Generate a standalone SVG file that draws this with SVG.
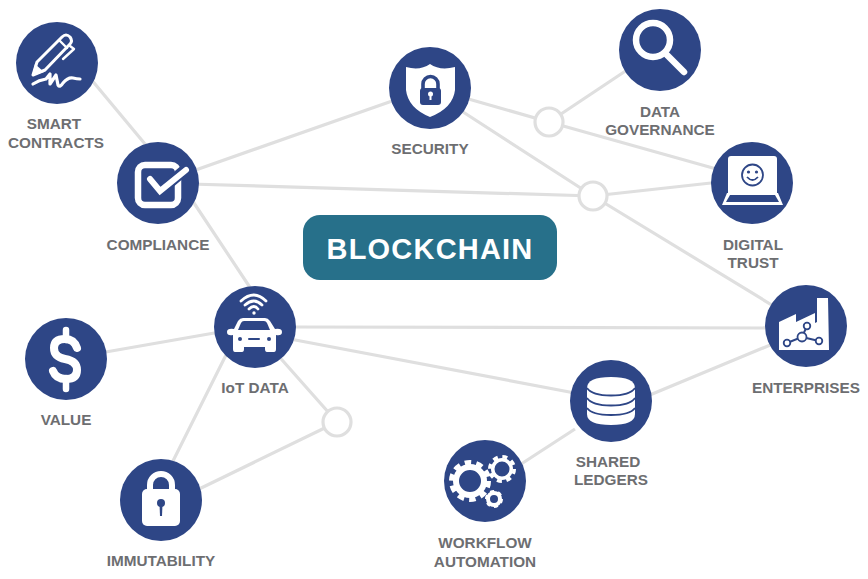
<svg xmlns="http://www.w3.org/2000/svg" width="868" height="579" viewBox="0 0 868 579">
<style>
.c{stroke:#dfdfdf;stroke-width:3.2;fill:none}
.j{stroke:#dfdfdf;stroke-width:3.2;fill:#fff}
.n{fill:#2e4686}
.w{fill:#fff}
.b{fill:#2e4686}
.ws{fill:none;stroke:#fff;stroke-linecap:round;stroke-linejoin:round}
.bs{fill:none;stroke:#2e4686}
.wr{fill:none;stroke:#fff}
.nd{fill:#fff;stroke:#2e4686;stroke-width:1.8}
text{font-family:"Liberation Sans",Arial,sans-serif;font-weight:700;font-size:15.3px;fill:#6d6e71;text-anchor:middle}
</style>
<rect width="868" height="579" fill="#fff"/>
<g id="connectors">
<path class="c" d="M90 78L150 150M190 172L395 100M190 184L593 196M190 197L255 295M465 98L549 122M549 122L630 68M549 122L720 170M460 110L593 196M593 196L720 182M593 196L780 310M290 327L775 328M290 339L580 394M645 397L775 343M575 429L515 468M100 353L220 332M226 355L172 463M275 352L337 422M337 422L195 491"/>
<circle class="j" cx="549" cy="122" r="14"/>
<circle class="j" cx="593" cy="196" r="14"/>
<circle class="j" cx="337" cy="422" r="14"/>
</g>
<g id="smart-contracts">
<circle class="n" cx="57" cy="63" r="41"/>
<path class="ws" stroke-width="3" d="M33 75L37 62L62 37Q66 33 70 37Q73 41 70 44L45 70Z"/>
<path class="w" d="M32 76L35 64L44 72Z"/>
<path class="ws" stroke-width="2.4" d="M59 40L67 48M70 46L74 49L63 59"/>
<path class="ws" stroke-width="3.2" d="M33 84Q39 80 46 79L50 74L50 84L56 75L58 85Q60 88 63 83Q68 77 73 78Q77 79 80 79"/>
<text x="54" y="129">SMART</text><text x="56" y="148">CONTRACTS</text>
</g>
<g id="compliance">
<circle class="n" cx="158" cy="183" r="41"/>
<rect x="138" y="165" width="40" height="40" rx="7" class="wr" stroke-width="6.500"/>
<path d="M150 179L160 191L187 168" fill="none" stroke="#2e4686" stroke-width="11"/>
<path class="ws" stroke-width="6" d="M150 179L160 191L186 170" style="stroke-linecap:round;stroke-linejoin:miter"/>
<text x="158" y="250">COMPLIANCE</text>
</g>
<g id="security">
<circle class="n" cx="430" cy="88" r="41"/>
<path class="w" d="M406 67Q420 71 430 64Q440 71 455 67V90Q453 108 430 117Q408 108 406 90Z"/>
<path d="M423 89V84A7.500 7.500 0 0 1 438 84V89" fill="none" stroke="#2e4686" stroke-width="3.600"/>
<rect class="b" x="420" y="88" width="21" height="17" rx="3"/>
<circle class="w" cx="430.500" cy="94" r="2.500"/><rect class="w" x="429.500" y="94" width="2" height="6"/>
<text x="430" y="154">SECURITY</text>
</g>
<g id="data-governance">
<circle class="n" cx="660" cy="50" r="41"/>
<circle cx="653" cy="40" r="17" class="wr" stroke-width="6.500"/>
<path class="ws" stroke-width="6.500" d="M667 55L684 72"/>
<text x="660" y="117">DATA</text><text x="660" y="135">GOVERNANCE</text>
</g>
<g id="digital-trust">
<circle class="n" cx="752" cy="183" r="41"/>
<path class="w" d="M731 156H774Q777 156 777 159V193H728V159Q728 156 731 156Z"/>
<path class="w" d="M727 193H778L783 205H722Z"/>
<path class="b" d="M730 195H775L779 202H726Z"/>
<circle cx="752.500" cy="175" r="10.500" fill="none" stroke="#2e4686" stroke-width="1.800"/>
<circle class="b" cx="748.500" cy="172" r="1.600"/><circle class="b" cx="756.500" cy="172" r="1.600"/>
<path class="bs" stroke-width="1.800" d="M747 177Q752.500 183 758 177"/>
<text x="753" y="250">DIGITAL</text><text x="753" y="268">TRUST</text>
</g>
<g id="enterprises">
<circle class="n" cx="806" cy="326" r="41"/>
<path class="w" d="M779 322L796 314V322L815 313V323L817 322V298H828L829 350H779Z"/>
<path class="bs" stroke-width="2" d="M787 343L802 337L807 326M802 337L819 341"/>
<circle class="nd" cx="802" cy="337" r="4.500"/>
<circle class="nd" cx="807" cy="326" r="3.300"/>
<circle class="nd" cx="787" cy="343" r="3.300"/>
<circle class="nd" cx="819" cy="341" r="3.300"/>
<text x="806" y="393">ENTERPRISES</text>
</g>
<g id="iot-data">
<circle class="n" cx="255" cy="327" r="41"/>
<path class="ws" stroke-width="2.800" d="M241 301Q254 289 266 301M245 305Q254 297 262 305M249 309Q254 304 258 309"/>
<circle class="w" cx="254" cy="313" r="1.700"/>
<path class="w" d="M243 318H265Q268 318 270 321L275 329Q282 328 282 332Q282 336 276 335V349Q276 352 274 352H267Q265 352 265 349V347H244V349Q244 352 242 352H235Q233 352 233 349V335Q227 336 227 332Q227 328 234 329L238 321Q240 318 243 318Z"/>
<path class="b" d="M244 321H264Q266 321 267 323L270 330H238L241 323Q242 321 244 321Z"/>
<circle class="b" cx="240" cy="339" r="2"/><circle class="b" cx="269" cy="339" r="2"/>
<rect class="b" x="248" y="338" width="12" height="2" rx="1"/>
<text x="255" y="393">IoT DATA</text>
</g>
<g id="value">
<circle class="n" cx="66" cy="359" r="41"/>
<path class="ws" stroke-width="6.500" d="M66 330V340M66 378V389"/>
<path class="ws" stroke-width="8" d="M77 348Q74 339 65 339Q54 339 54 348Q54 357 65 359Q77 361 77 370Q77 379 66 379Q56 379 53 371"/>
<text x="66" y="425">VALUE</text>
</g>
<g id="immutability">
<circle class="n" cx="161" cy="500" r="41"/>
<path d="M150 492V485A11 11 0 0 1 172 485V492" class="wr" stroke-width="6"/>
<rect class="w" x="142" y="489" width="38" height="37" rx="5"/>
<circle class="b" cx="161" cy="503" r="4"/><path class="b" d="M159.500 504H162.500L162 516H160Z"/>
<text x="161" y="566">IMMUTABILITY</text>
</g>
<g id="shared-ledgers">
<circle class="n" cx="611" cy="401" r="41"/>
<path class="w" d="M587 388Q587 377 611 377Q635 377 635 388V414Q635 425 611 425Q587 425 587 414Z"/>
<path class="bs" stroke-width="1.800" d="M587 388Q592 395.500 611 395.500Q630 395.500 635 388M587 398Q592 405.500 611 405.500Q630 405.500 635 398M587 408Q592 415 611 415Q630 415 635 408"/>
<text x="608" y="467">SHARED</text><text x="611" y="485">LEDGERS</text>
</g>
<g id="workflow-automation">
<circle class="n" cx="485" cy="481" r="41"/>
<circle cx="470" cy="481" r="14" class="wr" stroke-width="6"/>
<circle cx="470" cy="481" r="18.500" class="wr" stroke-width="5" stroke-dasharray="6.500 5.120"/>
<circle cx="502" cy="469" r="9.250" class="wr" stroke-width="3.500"/>
<circle cx="502" cy="469" r="12.250" class="wr" stroke-width="3.500" stroke-dasharray="5 4.620"/>
<circle cx="494" cy="499" r="6" class="wr" stroke-width="4"/>
<circle cx="494" cy="499" r="7.750" class="wr" stroke-width="2.500" stroke-dasharray="4 4.100"/>
<text x="485" y="548">WORKFLOW</text><text x="485" y="567">AUTOMATION</text>
</g>
<g id="blockchain">
<rect x="303" y="215" width="254" height="65" rx="17" fill="#27708a"/>
<text x="430" y="259" style="font-size:29px;fill:#fff;letter-spacing:1.200px">BLOCKCHAIN</text>
</g>
</svg>
